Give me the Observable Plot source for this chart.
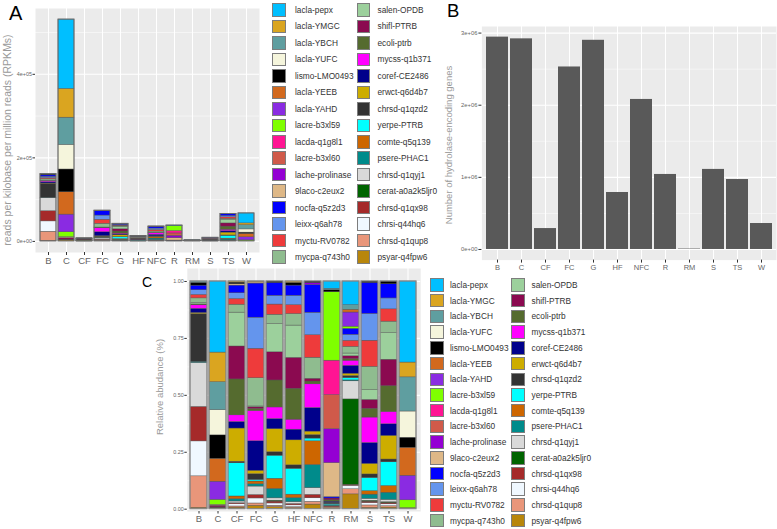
<!DOCTYPE html>
<html>
<head>
<meta charset="utf-8">
<script src="https://cdn.jsdelivr.net/npm/d3@7"></script>
<script src="https://cdn.jsdelivr.net/npm/@observablehq/plot@0.6"></script>
<style>
  html, body { margin: 0; padding: 0; background: #fff; }
  body { width: 777px; height: 529px; position: relative; overflow: hidden;
         font-family: "Liberation Sans", Arial, sans-serif; }
  .letter { position: absolute; color: #000; line-height: 1; font-family: "Liberation Sans", Arial, sans-serif; }
  .ytitle { position: absolute; color: #9a9a9a; white-space: nowrap;
            transform: translate(-50%, -50%) rotate(-90deg); line-height: 1; }
  .leg-row { position: absolute; height: 14px; display: flex; align-items: center;
             font-size: 8.3px; color: #333; white-space: nowrap; }
  .sw { width: 13.5px; height: 13.5px; box-sizing: border-box; border: 1px solid #7d7d7d; flex: none; }
</style>
</head>
<body>
<script>
// ---------------- DATA ----------------
const samples = ["B", "C", "CF", "FC", "G", "HF", "NFC", "R", "RM", "S", "TS", "W"];

const genes = [
  "lacla-pepx", "lacla-YMGC", "lacla-YBCH", "lacla-YUFC", "lismo-LMO0493", "lacla-YEEB",
  "lacla-YAHD", "lacre-b3xl59", "lacda-q1g8l1", "lacre-b3xl60", "lache-prolinase", "9laco-c2eux2",
  "nocfa-q5z2d3", "leixx-q6ah78", "myctu-RV0782", "mycpa-q743h0",
  "salen-OPDB", "shifl-PTRB", "ecoli-ptrb", "mycss-q1b371", "coref-CE2486", "erwct-q6d4b7",
  "chrsd-q1qzd2", "yerpe-PTRB", "comte-q5q139", "psere-PHAC1", "chrsd-q1qyj1", "cerat-a0a2k5ljr0",
  "chrsd-q1qx98", "chrsi-q44hq6", "chrsd-q1qup8", "psyar-q4fpw6"
];

const geneColors = [
  "#00BFFF", "#DAA520", "#5F9EA0", "#F5F5DC", "#000000", "#D2691E",
  "#8A2BE2", "#7FFF00", "#FF1493", "#D05A4A", "#9400D3", "#DEB887",
  "#0000FF", "#6495ED", "#EE3B3B", "#8FBC8F",
  "#9CD09C", "#8B0A50", "#556B2F", "#FF00FF", "#00008B", "#CDAD00",
  "#333333", "#00FFFF", "#CD6600", "#008B8B", "#D9D9D9", "#006400",
  "#A52A2A", "#F0F8FF", "#E9967A", "#B8860B"
];

// Relative abundance per sample (gene order as above)
const relB   = [0,0,0.006,0,0.012,0,0,0,0,0,0,0, 0.02,0.02,0.015,0.02, 0.006,0,0.004,0.015,0.018,0.005, 0.206,0,0,0.005,0.19,0, 0.149,0.151,0.136,0.006];
const relC   = [0.31,0.129,0.122,0.11,0.102,0.1,0.079,0.022,0,0,0,0.004, 0,0,0,0, 0,0.007,0,0,0,0, 0.003,0,0,0,0,0, 0,0,0,0.005];
const relCF  = [0,0.005,0,0,0.007,0,0,0,0,0,0,0.006, 0.034,0.025,0.025,0.035, 0.149,0.145,0.158,0.029,0.029,0.146, 0.007,0.146,0.012,0.01,0.008,0, 0.004,0.01,0.005,0.007];
const relFC  = [0,0.004,0,0,0,0,0,0,0,0,0,0.005, 0.149,0.136,0.129,0.123, 0.004,0.007,0.009,0.132,0.129,0.015, 0.025,0.007,0.012,0.01,0.037,0, 0.015,0.022,0.01,0.015];
const relG   = [0,0,0,0,0.006,0,0,0,0,0,0,0, 0.056,0.038,0.044,0.041, 0.122,0.122,0.117,0.05,0.044,0.1, 0.015,0.1,0.044,0.041,0.01,0.004, 0.008,0.01,0.006,0.009];
const relHF  = [0,0.006,0,0,0.012,0,0,0,0,0,0,0, 0.045,0.041,0.039,0.051, 0.142,0.136,0.136,0.044,0.047,0.11, 0.015,0.114,0.015,0.018,0.008,0, 0.006,0.008,0.004,0.005];
const relNFC = [0,0,0,0,0.006,0,0,0,0,0,0.009,0, 0.12,0.097,0.097,0.091, 0,0.012,0.012,0.102,0.102,0.015, 0.015,0.012,0.102,0.1,0.029,0, 0.015,0.015,0.012,0.02];
const relR   = [0.032,0,0.006,0,0.009,0,0,0.3,0.151,0.149,0.149,0.149, 0.006,0,0,0, 0,0.008,0.006,0,0.005,0, 0.006,0.004,0,0.005,0,0, 0.004,0,0.004,0.005];
const relRM  = [0.102,0,0.02,0,0,0.012,0.061,0.009,0,0,0,0, 0.026,0.026,0.026,0.029, 0.012,0.012,0.007,0.022,0.034,0.01, 0.009,0.01,0,0.004,0.078,0.369, 0.004,0.015,0.022,0.064];
const relS   = [0,0,0,0,0.006,0,0,0,0,0,0,0, 0.132,0.114,0.111,0.1, 0.041,0.038,0.037,0.108,0.089,0.045, 0.015,0.056,0.015,0.018,0.008,0.004, 0.006,0.01,0.01,0.006];
const relTS  = [0,0,0,0,0.012,0,0,0,0,0,0,0, 0.061,0.047,0.053,0.05, 0.114,0.114,0.111,0.053,0.05,0.102, 0.012,0.102,0.029,0.031,0.01,0.003, 0.006,0.008,0.006,0.007];
const relW   = [0.356,0.065,0.15,0.115,0.044,0.123,0.108,0.034,0,0,0,0, 0,0,0,0, 0,0,0,0,0,0, 0,0,0,0,0,0, 0,0,0,0.005];

// Panel A totals (RPKM) per sample
const totalsA = [161000, 531000, 7000, 73600, 42000, 12600, 35600, 38000, 2400, 8700, 65600, 67000];

// Panel B: number of hydrolase-encoding genes per sample
const hydrolaseCounts = [2944000, 2920000, 290000, 2530000, 2900000, 790000, 2080000, 1040000, 6000, 1110000, 970000, 360000];

// Axis ticks
const ticksAMajor = [0, 200000, 400000];
const ticksAMinor = [100000, 300000, 500000];
const ticksBMajor = [0, 1000000, 2000000, 3000000];
const ticksBMinor = [500000, 1500000, 2500000];
const ticksCMajor = [0, 0.25, 0.5, 0.75, 1];
const ticksCMinor = [0.125, 0.375, 0.625, 0.875];

// ---------------- BUILD ----------------
const relAbundance = [relB, relC, relCF, relFC, relG, relHF, relNFC, relR, relRM, relS, relTS, relW];
const rows = [];
samples.forEach((s, i) => {
  const rel = relAbundance[i];
  const sum = d3.sum(rel);
  for (let j = genes.length - 1; j >= 0; j--) {   // last gene at the bottom of the stack
    if (rel[j] > 0) rows.push({sample: s, gene: genes[j], share: rel[j] / sum, rpkm: rel[j] / sum * totalsA[i]});
  }
});
const totalRowsA = samples.map((s, i) => ({sample: s, total: totalsA[i]}));
const totalRowsC = samples.map(s => ({sample: s, total: 1}));
const hydroRows = samples.map((s, i) => ({sample: s, count: hydrolaseCounts[i]}));

const sci = d => { const [m, e] = d.toExponential(0).split("e"); return m + "e" + e[0] + e.slice(1).padStart(2, "0"); };
const FONT = "Liberation Sans, Arial, sans-serif";
const color = {domain: genes, range: geneColors};
const xBand = {domain: samples, paddingInner: 0.1, paddingOuter: 0.15, align: 0.5};

function place(el, left, top) {
  el.style.position = "absolute"; el.style.left = left + "px"; el.style.top = top + "px";
  document.body.appendChild(el);
}

// Panel A
const maxA = d3.max(totalsA);
const plotA = Plot.plot({
  width: 262, height: 272,
  marginLeft: 35, marginRight: 3, marginTop: 8, marginBottom: 20,
  style: {fontFamily: FONT, background: "transparent", color: "#666"},
  x: xBand,
  y: {domain: [-0.05 * maxA, 1.05 * maxA]},
  color,
  marks: [
    Plot.frame({fill: "#EBEBEB", stroke: "none"}),
    Plot.gridY(ticksAMinor, {stroke: "white", strokeOpacity: 1, strokeWidth: 0.5}),
    Plot.gridY(ticksAMajor, {stroke: "white", strokeOpacity: 1, strokeWidth: 1.1}),
    Plot.gridX({stroke: "white", strokeOpacity: 1, strokeWidth: 1.1}),
    Plot.barY(rows, {x: "sample", y: "rpkm", fill: "gene", stroke: "#4d4d4d", strokeWidth: 0.4}),
    Plot.barY(totalRowsA, {x: "sample", y: "total", fill: "none", stroke: "#6a6a6a", strokeWidth: 1}),
    Plot.axisY(ticksAMajor, {tickFormat: sci, fontSize: 5.4, tickSize: 2.5, tickPadding: 1, stroke: "#333", fill: "#666", label: null}),
    Plot.axisX({fontSize: 9.5, tickSize: 3, tickPadding: 2, stroke: "#333", fill: "#666", label: null})
  ]
});
place(plotA, 0, 0);

// Panel B
const maxB = d3.max(hydrolaseCounts);
const plotB = Plot.plot({
  width: 337, height: 275,
  marginLeft: 41.4, marginRight: 1, marginTop: 26, marginBottom: 15.4,
  style: {fontFamily: FONT, background: "transparent", color: "#666"},
  x: xBand,
  y: {domain: [-0.05 * maxB, 1.05 * maxB]},
  marks: [
    Plot.frame({fill: "#EBEBEB", stroke: "none"}),
    Plot.gridY(ticksBMinor, {stroke: "white", strokeOpacity: 1, strokeWidth: 0.5}),
    Plot.gridY(ticksBMajor, {stroke: "white", strokeOpacity: 1, strokeWidth: 1.1}),
    Plot.gridX({stroke: "white", strokeOpacity: 1, strokeWidth: 1.1}),
    Plot.barY(hydroRows, {x: "sample", y: "count", fill: "#595959"}),
    Plot.axisY(ticksBMajor, {tickFormat: sci, fontSize: 5.8, tickSize: 3, tickPadding: 1.5, stroke: "#333", fill: "#666", label: null}),
    Plot.axisX({fontSize: 7.5, tickSize: 3, tickPadding: 2, stroke: "#333", fill: "#666", label: null})
  ]
});
place(plotB, 440, 0);

// Panel C
const plotC = Plot.plot({
  width: 282, height: 267,
  marginLeft: 46.8, marginRight: 1.8, marginTop: 6, marginBottom: 18,
  style: {fontFamily: FONT, background: "transparent", color: "#666"},
  x: xBand,
  y: {domain: [-0.0101, 1.057]},
  color,
  marks: [
    Plot.frame({fill: "#EBEBEB", stroke: "none"}),
    Plot.gridY(ticksCMinor, {stroke: "white", strokeOpacity: 1, strokeWidth: 0.5}),
    Plot.gridY(ticksCMajor, {stroke: "white", strokeOpacity: 1, strokeWidth: 1.1}),
    Plot.gridX({stroke: "white", strokeOpacity: 1, strokeWidth: 1.1}),
    Plot.barY(rows, {x: "sample", y: "share", fill: "gene", stroke: "#4d4d4d", strokeWidth: 0.4}),
    Plot.barY(totalRowsC, {x: "sample", y: "total", fill: "none", stroke: "#8a8a8a", strokeWidth: 1.2}),
    Plot.axisY(ticksCMajor, {tickFormat: d3.format(".2f"), fontSize: 5.4, tickSize: 2.5, tickPadding: 1, stroke: "#333", fill: "#666", label: null}),
    Plot.axisX({fontSize: 9.5, tickSize: 2.5, tickPadding: 1.5, stroke: "#333", fill: "#666", label: null})
  ]
});
place(plotC, 140, 262);

// Panel letters
function letter(txt, left, top, size) {
  const d = document.createElement("div");
  d.className = "letter"; d.textContent = txt; d.style.fontSize = size + "px";
  d.style.left = left + "px"; d.style.top = top + "px";
  document.body.appendChild(d);
}
letter("A", 9, 3, 20);
letter("B", 447, 2, 18.5);
letter("C", 142, 275, 14);

// Axis titles
function ytitle(txt, cx, cy, size) {
  const d = document.createElement("div");
  d.className = "ytitle"; d.textContent = txt; d.style.fontSize = size + "px";
  d.style.left = cx + "px"; d.style.top = cy + "px";
  document.body.appendChild(d);
}
ytitle("reads per kilobase per million reads (RPKMs)", 6.5, 140, 10.5);
ytitle("Number of hydrolase-encoding genes", 448.5, 145, 9.5);
ytitle("Relative abudance (%)", 159.5, 387, 9.5);

// Legends
function legend(colX, textGap, firstCenter, step) {
  genes.forEach((g, i) => {
    const col = i < 16 ? 0 : 1;
    const r = i % 16;
    const row = document.createElement("div");
    row.className = "leg-row";
    row.style.left = colX[col] + "px";
    row.style.top = (firstCenter + step * r - 7) + "px";
    const sw = document.createElement("div");
    sw.className = "sw";
    sw.style.background = geneColors[i];
    sw.style.marginRight = textGap[col] + "px";
    const t = document.createElement("span");
    t.textContent = g;
    row.appendChild(sw); row.appendChild(t);
    document.body.appendChild(row);
  });
}
legend([272, 356.5], [9.5, 7.5], 10, 16.47);
legend([430, 511], [6.5, 7], 285, 15.71);
</script>
</body>
</html>
